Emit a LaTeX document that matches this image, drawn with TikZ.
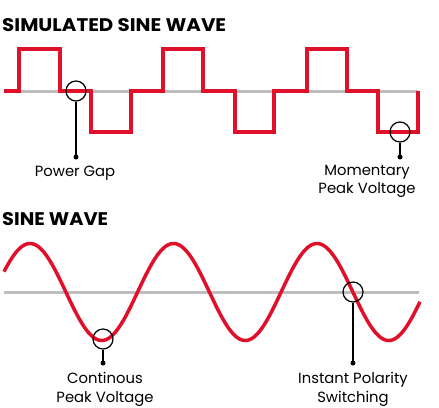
\documentclass[tikz,border=0pt]{standalone}
\usepackage{fontspec}
\setmainfont{Poppins}
\definecolor{wavered}{HTML}{E0102B}
\definecolor{axisgray}{HTML}{BDBDBD}
\begin{document}
\begin{tikzpicture}[x=1pt,y=-1pt,
  heading/.style={anchor=west, inner sep=0pt, font=\bfseries},
  caption/.style={align=center, inner sep=0pt, font=\fontsize{14.8}{18.5}\selectfont},
  marker/.style={circle, draw=black, line width=1.2pt, minimum size=20pt, inner sep=0pt},
  pin/.style={circle, fill=black, minimum size=5pt, inner sep=0pt},
  lead/.style={black, line width=1.3pt},
  wave/.style={wavered, line width=3.8pt, line join=miter},
  axisline/.style={axisgray, line width=3pt}]
\useasboundingbox (0,0) rectangle (439,407);
\fill[white] (0,0) rectangle (439,407);

% ---------- simulated sine wave ----------
\node[heading] (t1) at (2,25.5) {\resizebox{224pt}{13pt}{SIMULATED SINE WAVE}};
\draw[axisline] (4,91) -- (418,91);
\draw[wave] (4,91) -- (19,91) -- (19,49) -- (60,49) -- (60,91) -- (91,91)
  -- (91,132) -- (131,132) -- (131,91) -- (163,91) -- (163,49) -- (203,49)
  -- (203,91) -- (235,91) -- (235,132) -- (274,132) -- (274,91) -- (307,91)
  -- (307,49) -- (347,49) -- (347,91) -- (378,91) -- (378,132) -- (418,132)
  -- (418,91);

\node[marker] (m1) at (76,91) {};
\node[pin] (p1) at (76,157) {};
\draw[lead] (m1.south) -- (p1.center);
\node[caption] (c1) at (75,173) {Power Gap};

\node[marker] (m2) at (400,132) {};
\node[pin] (p2) at (400,157) {};
\draw[lead] (m2.south) -- (p2.center);
\node[caption] (c2) at (367,181.5) {Momentary\\Peak Voltage};

% ---------- sine wave ----------
\node[heading] (t2) at (2,219.5) {\resizebox{106pt}{13pt}{SINE WAVE}};
\draw[axisline] (4,292) -- (419,292);
\draw[wavered, line width=3.5pt] plot[domain=4:420, samples=300, smooth]
  (\x, {292-48.5*cos(2.5087*(\x-30))});

\node[marker] (m3) at (103,339) {};
\node[pin] (p3) at (103,363) {};
\draw[lead] (m3.south) -- (p3.center);
\node[caption] (c3) at (105,389.5) {Continous\\Peak Voltage};

\node[marker] (m4) at (353,292) {};
\node[pin] (p4) at (353,363) {};
\draw[lead] (m4.south) -- (p4.center);
\node[caption] (c4) at (353,389.5) {Instant Polarity\\Switching};
\end{tikzpicture}
\end{document}
